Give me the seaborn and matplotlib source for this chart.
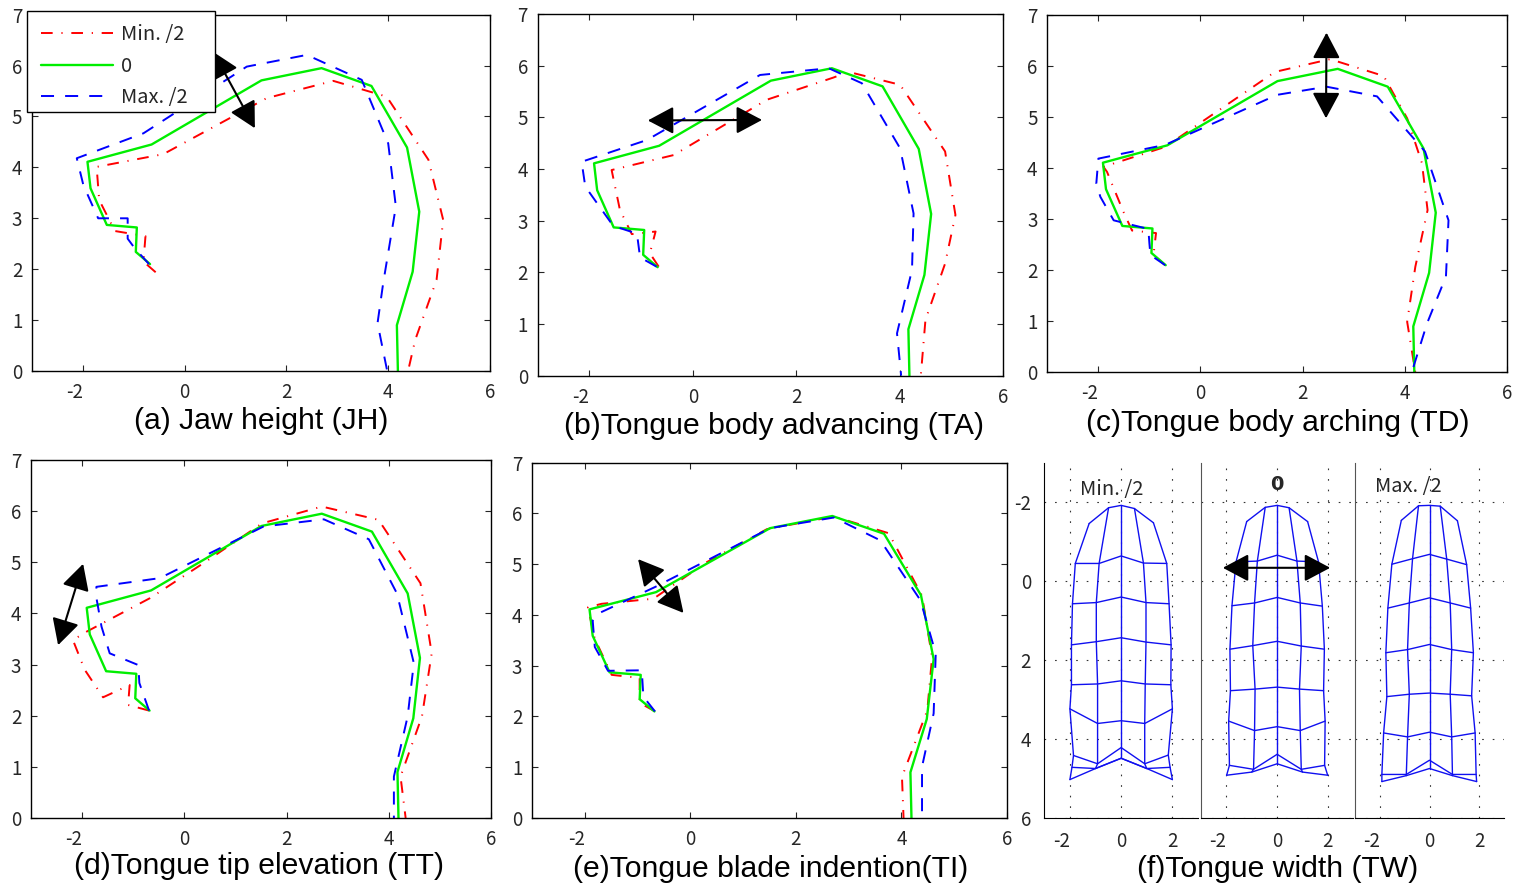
import numpy as np
import matplotlib
matplotlib.use('Agg')
import matplotlib.pyplot as plt
from matplotlib.patches import Rectangle
import seaborn as sns

# neutral (value 0) contour, same in panels a-e
rest_x = [-0.68, -0.96, -0.94, -1.53, -1.85, -1.91, -0.65, 1.51, 2.69, 3.67, 4.37, 4.61, 4.48, 4.17, 4.19]
rest_y = [2.10, 2.34, 2.82, 2.87, 3.59, 4.11, 4.45, 5.71, 5.95, 5.60, 4.39, 3.13, 1.95, 0.90, 0.00]

jh_min_x = [-0.57, -0.81, -0.77, -1.37, -1.68, -1.73, -0.42, 1.61, 2.92, 3.97, 4.79, 5.08, 4.95, 4.53, 4.39]
jh_min_y = [1.94, 2.15, 2.65, 2.75, 3.36, 4.01, 4.26, 5.36, 5.70, 5.39, 4.15, 2.97, 1.79, 0.61, 0.00]
jh_max_x = [-0.70, -0.98, -1.12, -1.12, -1.70, -1.99, -2.12, -0.81, 1.22, 2.40, 3.48, 4.00, 4.15, 3.90, 3.79, 3.98]
jh_max_y = [2.10, 2.41, 2.60, 3.00, 3.00, 3.65, 4.18, 4.67, 5.98, 6.21, 5.72, 4.47, 3.23, 1.72, 0.94, 0.00]

ta_min_x = [-0.66, -0.83, -0.72, -1.18, -1.41, -1.57, -0.37, 1.43, 2.72, 3.01, 4.01, 4.88, 5.08, 4.88, 4.50, 4.41]
ta_min_y = [2.11, 2.37, 2.79, 2.74, 3.21, 3.98, 4.27, 5.34, 5.77, 5.88, 5.63, 4.34, 3.11, 2.17, 1.08, 0.00]
ta_max_x = [-0.70, -1.02, -1.08, -1.54, -2.08, -2.15, -0.89, 1.30, 2.63, 3.27, 4.01, 4.27, 4.24, 3.95, 4.03]
ta_max_y = [2.11, 2.29, 2.75, 2.90, 3.66, 4.14, 4.56, 5.82, 5.95, 5.66, 4.40, 3.14, 2.05, 0.82, 0.00]

td_min_x = [-0.69, -0.92, -0.87, -1.34, -1.51, -1.83, -1.90, -0.69, 1.46, 2.54, 3.59, 4.05, 4.34, 4.45, 4.21, 4.05, 4.21]
td_min_y = [2.10, 2.30, 2.73, 2.78, 3.15, 3.93, 4.03, 4.42, 5.89, 6.14, 5.81, 4.98, 4.10, 3.18, 2.07, 0.99, 0.00]
td_max_x = [-0.69, -0.98, -1.00, -1.02, -1.70, -1.96, -2.04, -2.00, -0.69, 1.50, 2.47, 3.46, 4.40, 4.86, 4.81, 4.44, 4.14]
td_max_y = [2.10, 2.30, 2.53, 2.81, 2.98, 3.44, 3.70, 4.19, 4.46, 5.44, 5.60, 5.41, 4.33, 2.98, 1.88, 0.96, 0.00]

tt_min_x = [-0.69, -1.10, -1.07, -1.59, -1.95, -2.18, -1.90, -0.67, 0.37, 1.52, 2.69, 3.80, 4.62, 4.84, 4.65, 4.23, 4.33]
tt_min_y = [2.10, 2.21, 2.60, 2.36, 2.90, 3.48, 3.65, 4.30, 4.98, 5.76, 6.09, 5.83, 4.59, 3.22, 1.99, 0.81, 0.00]
tt_max_x = [-0.69, -0.88, -0.90, -1.46, -1.62, -1.73, -1.72, -0.48, 1.55, 2.73, 3.61, 4.16, 4.49, 4.37, 4.10, 4.10]
tt_max_y = [2.10, 2.64, 2.99, 3.22, 3.74, 4.36, 4.52, 4.69, 5.70, 5.84, 5.45, 4.39, 3.03, 1.99, 0.81, 0.00]

ti_min_x = [-0.67, -0.96, -0.96, -1.49, -1.81, -1.94, -1.68, -0.70, 0.31, 1.45, 2.72, 3.76, 4.39, 4.58, 4.49, 4.01, 4.04]
ti_min_y = [2.10, 2.27, 2.76, 2.82, 3.53, 4.15, 4.22, 4.32, 5.04, 5.69, 5.94, 5.61, 4.38, 3.17, 2.12, 0.81, 0.00]
ti_max_x = [-0.67, -0.89, -0.92, -1.56, -1.81, -1.85, -1.72, -0.67, 1.51, 2.72, 3.60, 4.36, 4.65, 4.61, 4.39, 4.39]
ti_max_y = [2.10, 2.39, 2.91, 2.90, 3.37, 3.89, 4.04, 4.55, 5.71, 5.92, 5.47, 4.29, 3.24, 2.06, 1.01, 0.00]

# tongue width meshes, rows run tip to root
tw_min_x = [[-1.25, -0.49, 0, 0.52, 1.26], [-1.79, -0.86, 0, 0.87, 1.78], [-1.90, -0.97, 0, 0.97, 1.87],
            [-1.94, -0.97, 0, 0.97, 1.95], [-1.94, -0.92, 0, 0.94, 1.94], [-2.00, -0.92, 0, 0.92, 2.00],
            [-1.86, -0.92, 0, 0.92, 1.84], [-1.92, -1.00, 0, 1.00, 1.91], [-2.00, -1.00, 0, 1.00, 2.00]]
tw_min_y = [[-1.46, -1.86, -1.92, -1.84, -1.48], [-0.45, -0.45, -0.64, -0.46, -0.45], [0.57, 0.54, 0.40, 0.54, 0.57],
            [1.61, 1.53, 1.43, 1.54, 1.61], [2.62, 2.60, 2.52, 2.60, 2.62], [3.23, 3.60, 3.53, 3.60, 3.23],
            [4.41, 4.62, 4.21, 4.62, 4.40], [4.71, 4.74, 4.48, 4.74, 4.71], [5.02, 4.74, 4.48, 4.74, 5.02]]
tw_mid_x = [[-1.20, -0.47, 0, 0.47, 1.20], [-1.62, -0.78, 0, 0.78, 1.63], [-1.78, -0.89, 0, 0.91, 1.78],
            [-1.86, -0.96, 0, 0.95, 1.86], [-1.84, -0.87, 0, 0.88, 1.83], [-1.91, -0.89, 0, 0.91, 1.89],
            [-1.88, -0.93, 0, 0.95, 1.87], [-1.99, -1.00, 0, 1.00, 1.99]]
tw_mid_y = [[-1.51, -1.87, -1.92, -1.86, -1.51], [-0.49, -0.51, -0.66, -0.51, -0.49], [0.62, 0.55, 0.41, 0.55, 0.63],
            [1.72, 1.63, 1.52, 1.64, 1.72], [2.77, 2.73, 2.68, 2.73, 2.77], [3.54, 3.78, 3.68, 3.78, 3.54],
            [4.66, 4.76, 4.38, 4.76, 4.66], [4.91, 4.83, 4.62, 4.83, 4.91]]
tw_max_x = [[-1.13, -0.44, 0, 0.43, 1.12], [-1.51, -0.68, 0, 0.69, 1.49], [-1.67, -0.81, 0, 0.83, 1.65],
            [-1.75, -0.88, 0, 0.89, 1.76], [-1.71, -0.81, 0, 0.83, 1.69], [-1.84, -0.88, 0, 0.89, 1.83],
            [-1.91, -0.93, 0, 0.92, 1.87], [-1.91, -0.93, 0, 0.92, 1.89]]
tw_max_y = [[-1.54, -1.91, -1.92, -1.90, -1.53], [-0.43, -0.57, -0.68, -0.56, -0.42], [0.68, 0.55, 0.42, 0.55, 0.68],
            [1.81, 1.73, 1.60, 1.73, 1.81], [2.92, 2.86, 2.83, 2.86, 2.90], [3.84, 3.94, 3.82, 3.94, 3.84],
            [4.89, 4.89, 4.53, 4.89, 4.89], [5.07, 4.92, 4.74, 4.92, 5.07]]

W, H = 1517, 886
RED_DASH = (0, (6, 4.5, 0.6, 4.5))
BLUE_DASH = (0, (6.7, 5.7))

sns.set_style('white')
plt.rcParams['font.family'] = ['Noto Sans CJK JP', 'DejaVu Sans']
fig = plt.figure(figsize=(W / 100, H / 100), dpi=100)


def make_axes(l, t, r, b):
    return fig.add_axes([l / W, 1 - b / H, (r - l) / W, (b - t) / H])


def caption(text, cx, cy):
    fig.text(cx / W, 1 - (cy + 1) / H, text, family='Liberation Sans', fontsize=21.7, ha='center', va='center', color='black')


def arrow(ax, p0, p1):
    ax.annotate('', xy=p1, xytext=p0, zorder=3, annotation_clip=False,
                arrowprops=dict(arrowstyle='<|-|>,head_length=1.6,head_width=0.85', mutation_scale=10,
                                color='black', lw=1.5, shrinkA=0, shrinkB=0))


def contour_panel(box, min_x, min_y, max_x, max_y, title, title_pos, arrow_from, arrow_to, labels=False):
    ax = make_axes(*box)
    sns.lineplot(x=min_x, y=min_y, sort=False, estimator=None, color='#ff0000', lw=1.4, linestyle=RED_DASH,
                 ax=ax, label='Min. /2' if labels else None)
    sns.lineplot(x=rest_x, y=rest_y, sort=False, estimator=None, color='#00ee00', lw=1.7,
                 ax=ax, label='0' if labels else None)
    sns.lineplot(x=max_x, y=max_y, sort=False, estimator=None, color='#0000ff', lw=1.4, linestyle=BLUE_DASH,
                 ax=ax, label='Max. /2' if labels else None)
    ax.set_xlim(-3, 6)
    ax.set_ylim(0, 7)
    ax.set_xticks([-2, 0, 2, 4, 6])
    ax.set_xticklabels(['-2', '0', '2', '4', '6'])
    ax.set_yticks(range(8))
    ax.tick_params(direction='in', top=True, right=True, bottom=True, left=True, length=4, width=0.8,
                   labelsize=13.5, pad=7)
    ax.tick_params(axis='x', pad=8)
    ax.get_xticklabels()[0].set_ha('right')
    for s in ax.spines.values():
        s.set_color('black')
        s.set_linewidth(1.0)
    arrow(ax, arrow_from, arrow_to)
    caption(title, *title_pos)
    return ax


def width_panel(box, mesh_x, mesh_y, label, label_pos, show_y=False, bold=False):
    ax = make_axes(*box)
    mx = np.array(mesh_x)
    my = np.array(mesh_y)
    for i in range(mx.shape[0]):
        sns.lineplot(x=mx[i], y=my[i], sort=False, estimator=None, color='#1010f0', lw=1.0, ax=ax)
    for j in range(mx.shape[1]):
        sns.lineplot(x=mx[:, j], y=my[:, j], sort=False, estimator=None, color='#1010f0', lw=1.0, ax=ax)
    ax.set_xlim(-3, 3)
    ax.set_ylim(6, -3)
    ax.set_xticks([-2, 0, 2])
    ax.set_xticklabels(['-2', '0', '2'])
    ax.set_yticks([-2, 0, 2, 4, 6])
    ax.set_yticklabels(['-2', '0', '2', '4', '6'] if show_y else [])
    ax.grid(True, color='#333333', linestyle=(0, (1.5, 8)), lw=0.8)
    ax.tick_params(left=False, bottom=False, labelsize=13.5, pad=6)
    ax.get_xticklabels()[0].set_ha('right')
    ax.patch.set_alpha(0)
    ax.spines['top'].set_visible(False)
    ax.spines['right'].set_visible(False)
    ax.spines['left'].set_color('black' if show_y else '#555555')
    ax.spines['bottom'].set_color('black')
    if bold:
        fig.text(label_pos[0] / W, 1 - label_pos[1] / H, label, fontsize=14, ha='center', va='center',
                 family='DejaVu Sans', fontweight='bold')
    else:
        fig.text(label_pos[0] / W, 1 - label_pos[1] / H, label, fontsize=14.5, ha='center', va='center')
    return ax


ax_a = contour_panel((32, 14.7, 490, 371), jh_min_x, jh_min_y, jh_max_x, jh_max_y,
                     '(a) Jaw height (JH)', (261, 420), (0.56, 6.27), (1.38, 4.77), labels=True)
contour_panel((537.7, 14, 1003, 375.7), ta_min_x, ta_min_y, ta_max_x, ta_max_y,
              '(b)Tongue body advancing (TA)', (774, 425), (-0.87, 4.94), (1.34, 4.95))
contour_panel((1047.3, 15.3, 1506.7, 372.3), td_min_x, td_min_y, td_max_x, td_max_y,
              '(c)Tongue body arching (TD)', (1278, 422), (2.47, 6.66), (2.46, 4.98))
contour_panel((31, 460, 491, 818), tt_min_x, tt_min_y, tt_max_x, tt_max_y,
              '(d)Tongue tip elevation (TT)', (259, 865), (-1.98, 4.97), (-2.47, 3.38))
contour_panel((532, 462.7, 1007, 818), ti_min_x, ti_min_y, ti_max_x, ti_max_y,
              '(e)Tongue blade indention(TI)', (771, 868), (-0.99, 5.10), (-0.13, 4.04))

# legend box is wider than its contents in the original, so the frame is drawn separately
ax_a.add_patch(Rectangle((27 / W, 1 - 112 / H), 188 / W, 101 / H, transform=fig.transFigure,
                         facecolor='white', edgecolor='black', lw=1.0, clip_on=False, zorder=4.9))
ax_a.legend(loc='upper left', bbox_to_anchor=(41 / W, 1 - 24 / H), bbox_transform=fig.transFigure,
            borderaxespad=0, borderpad=0, frameon=False, fontsize=14.5,
            handlelength=3.57, handletextpad=0.4, labelspacing=0.53)

width_panel((1044.3, 462.7, 1198, 818.3), tw_min_x, tw_min_y, 'Min. /2', (1112, 489), show_y=True)
ax_mid = width_panel((1201, 462.7, 1353.3, 818.3), tw_mid_x, tw_mid_y, '0', (1277, 484), bold=True)
width_panel((1354.7, 462.7, 1504.3, 818.3), tw_max_x, tw_max_y, 'Max. /2', (1408, 486))
arrow(ax_mid, (-2.14, -0.34), (2.09, -0.34))
caption('(f)Tongue width (TW)', 1278, 868)

fig.savefig('out.png', dpi=100)
